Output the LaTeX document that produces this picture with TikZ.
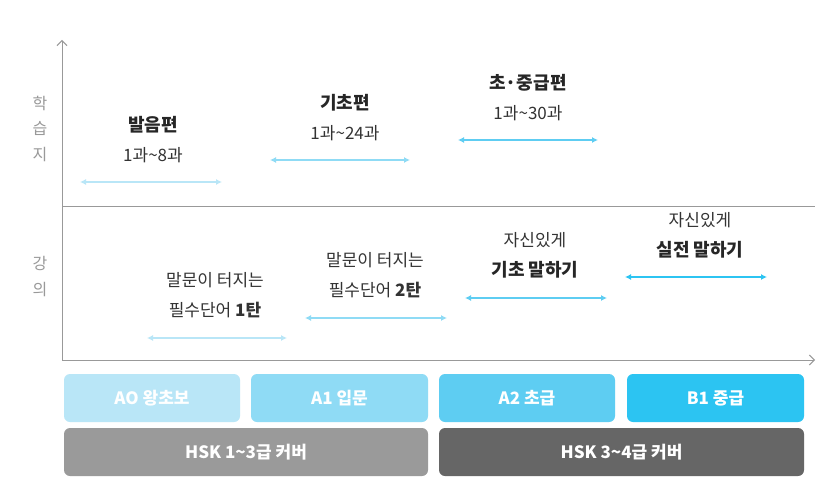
\documentclass[tikz,border=0pt]{standalone}
\usepackage{fontspec}
\setmainfont{Noto Sans CJK KR}
\usetikzlibrary{arrows.meta}
\definecolor{lvA}{HTML}{B9E6F7}
\definecolor{lvB}{HTML}{8FDBF5}
\definecolor{lvC}{HTML}{5ECDF2}
\definecolor{lvD}{HTML}{2CC4F2}
\definecolor{hskA}{HTML}{9A9A9A}
\definecolor{hskB}{HTML}{666666}
\definecolor{axis}{HTML}{999999}
\tikzset{
  span/.style={{Latex[length=6pt,width=6pt]}-{Latex[length=6pt,width=6pt]}, line width=2.2pt},
  title/.style={font=\fontsize{18}{22}\selectfont\bfseries, text=black!85},
  sub/.style={font=\fontsize{17}{22}\selectfont, text=black!80},
  level/.style={rounded corners=6pt, minimum height=48pt, text=white, font=\fontsize{17}{20}\selectfont\bfseries},
  side/.style={font=\fontsize{16}{18}\selectfont, text=axis}
}
\begin{document}
\begin{tikzpicture}[x=1pt,y=-1pt]
\useasboundingbox[fill=white] (0,0) rectangle (834,476);
% axes
\draw[axis, line width=1pt, -{Straight Barb[length=5pt]}] (62,360) -- (62,40);
\draw[axis, line width=1pt, -{Straight Barb[length=5pt]}] (62,360) -- (815,360);
\draw[axis, line width=0.8pt] (62,206) -- (815,206);
\node[side] (s1) at (40,103) {학};
\node[side] (s2) at (40,128) {습};
\node[side] (s3) at (40,155) {지};
\node[side] (s4) at (40,263) {강};
\node[side] (s5) at (40,290) {의};
% study books
\node[title] (t1) at (153,125) {발음편};
\node[sub] (u1) at (153,155) {1과\textasciitilde8과};
\draw[span, lvA] (80,182) -- (222,182);
\node[title] (t2) at (345,103) {기초편};
\node[sub] (u2) at (345,133) {1과\textasciitilde24과};
\draw[span, lvB] (270,160) -- (410,160);
\node[title] (t3) at (528,83) {초·중급편};
\node[sub] (u3) at (528,113) {1과\textasciitilde30과};
\draw[span, lvC] (458,140) -- (598,140);
% lectures
\node[sub] (l1) at (215,280) {말문이 터지는};
\node[sub] (m1) at (215,310) {필수단어 \textbf{1탄}};
\draw[span, lvA] (147,338) -- (287,338);
\node[sub] (l2) at (375,260) {말문이 터지는};
\node[sub] (m2) at (375,290) {필수단어 \textbf{2탄}};
\draw[span, lvB] (305,318) -- (447,318);
\node[sub] (l3) at (535,240) {자신있게};
\node[title] (m3) at (535,270) {기초 말하기};
\draw[span, lvC] (465,298) -- (607,298);
\node[sub] (l4) at (700,220) {자신있게};
\node[title] (m4) at (700,250) {실전 말하기};
\draw[span, lvD] (625,277) -- (767,277);
% levels
\node[level, fill=lvA, minimum width=176pt] (a0) at (152,398) {AO 왕초보};
\node[level, fill=lvB, minimum width=177pt] (a1) at (339.5,398) {A1 입문};
\node[level, fill=lvC, minimum width=176pt] (a2) at (527,398) {A2 초급};
\node[level, fill=lvD, minimum width=177pt] (b1) at (715.5,398) {B1 중급};
\node[level, fill=hskA, minimum width=364pt] (h1) at (246,452) {HSK 1\textasciitilde3급 커버};
\node[level, fill=hskB, minimum width=365pt] (h2) at (621.5,452) {HSK 3\textasciitilde4급 커버};
\end{tikzpicture}
\end{document}
